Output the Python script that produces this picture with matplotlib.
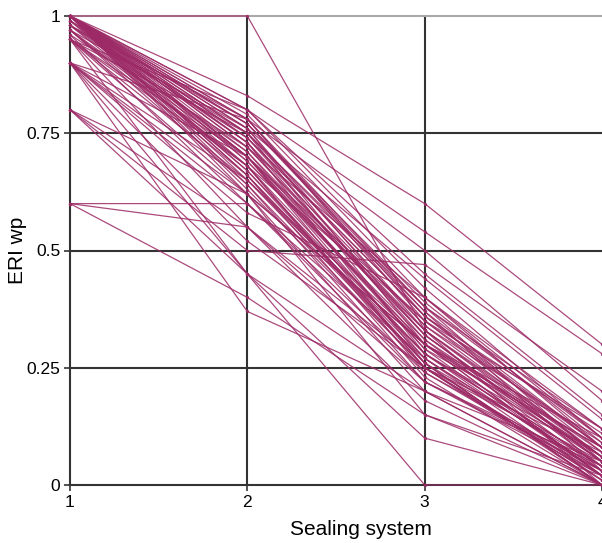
import matplotlib
matplotlib.use("Agg")
import matplotlib.pyplot as plt

plt.rcParams['font.family'] = ['Liberation Sans', 'DejaVu Sans']

systems = [1, 2, 3, 4]
x_ticks = [1, 2, 3, 4]
x_tick_labels = ["1", "2", "3", "4"]
y_ticks = [0, 0.25, 0.5, 0.75, 1]
y_tick_labels = ["0", "0.25", "0.5", "0.75", "1"]

# ERI wp value of each alternative for sealing systems 1..4
s1 = [1.0, 1.0, 1.0, 1.0, 1.0, 1.0, 1.0, 1.0, 1.0, 1.0, 1.0, 1.0, 1.0, 1.0,
      1.0, 1.0, 1.0, 1.0, 1.0, 1.0, 1.0, 1.0, 1.0, 1.0, 1.0, 1.0, 1.0, 1.0,
      1.0, 1.0, 1.0, 1.0, 0.99, 0.99, 0.99, 0.99, 0.98, 0.98, 0.97, 0.97,
      0.98, 0.98, 0.97, 0.97, 0.96, 0.96, 0.98, 0.97,
      0.95, 0.95, 0.95, 0.95, 0.95, 0.95, 0.95, 0.95,
      0.9, 0.9, 0.9, 0.9, 0.9, 0.9, 0.9, 0.9, 0.9,
      0.8, 0.8, 0.8, 0.8,
      0.6, 0.6, 0.6]
s2 = [0.80, 0.79, 0.78, 0.78, 0.77, 0.76, 0.76, 0.75, 0.75, 0.74, 0.73, 0.73, 0.72, 0.71,
      0.70, 0.70, 0.69, 0.68, 0.67, 0.66, 0.65, 0.64, 0.63, 0.62, 0.83, 1.0, 0.80, 0.77,
      0.74, 0.72, 0.69, 0.66, 0.77, 0.73, 0.70, 0.67, 0.75, 0.71, 0.68, 0.64,
      0.78, 0.74, 0.70, 0.66, 0.72, 0.60, 0.68, 0.76,
      0.75, 0.70, 0.65, 0.62, 0.55, 0.45, 0.68, 0.80,
      0.70, 0.65, 0.60, 0.58, 0.52, 0.78, 0.45, 0.37, 0.62,
      0.62, 0.55, 0.45, 0.50,
      0.60, 0.55, 0.40]
s3 = [0.42, 0.40, 0.38, 0.35, 0.37, 0.33, 0.30, 0.34, 0.28, 0.36, 0.31, 0.26, 0.32, 0.29,
      0.27, 0.25, 0.30, 0.24, 0.28, 0.23, 0.26, 0.22, 0.25, 0.20, 0.60, 0.33, 0.45, 0.38,
      0.36, 0.33, 0.31, 0.27, 0.39, 0.34, 0.29, 0.26, 0.37, 0.32, 0.28, 0.25,
      0.36, 0.32, 0.30, 0.26, 0.40, 0.24, 0.35, 0.44,
      0.38, 0.33, 0.28, 0.30, 0.22, 0.20, 0.25, 0.54,
      0.35, 0.30, 0.27, 0.40, 0.25, 0.50, 0.0, 0.20, 0.15,
      0.30, 0.25, 0.10, 0.47,
      0.22, 0.18, 0.15]
s4 = [0.10, 0.08, 0.05, 0.12, 0.03, 0.07, 0.02, 0.09, 0.04, 0.11, 0.06, 0.0, 0.05, 0.08,
      0.03, 0.01, 0.10, 0.02, 0.06, 0.0, 0.04, 0.03, 0.07, 0.0, 0.30, 0.0, 0.15, 0.12,
      0.07, 0.05, 0.03, 0.01, 0.09, 0.06, 0.02, 0.0, 0.08, 0.04, 0.02, 0.01,
      0.08, 0.05, 0.02, 0.0, 0.10, 0.03, 0.06, 0.14,
      0.10, 0.06, 0.04, 0.08, 0.02, 0.0, 0.05, 0.28,
      0.08, 0.05, 0.03, 0.12, 0.0, 0.18, 0.0, 0.05, 0.0,
      0.06, 0.02, 0.0, 0.20,
      0.04, 0.0, 0.02]

line_color = '#9C2A66'

fig = plt.figure(figsize=(6.02, 5.43), dpi=100)
ax = fig.add_axes([70/602, 1 - 485/543, 1 - 70/602, (485 - 16)/543])

for a, b, c, d in zip(s1, s2, s3, s4):
    ax.plot(systems, [a, b, c, d], color=line_color, lw=0.9, marker='o',
            markersize=2.4, markeredgewidth=0, alpha=0.85, zorder=3, clip_on=False)

ax.set_xlim(1, 4)
ax.set_ylim(0, 1)
ax.set_xticks(x_ticks)
ax.set_xticklabels(x_tick_labels)
ax.set_yticks(y_ticks)
ax.set_yticklabels(y_tick_labels)

for xv in [2, 3]:
    ax.axvline(xv, color='#333333', lw=1.5, zorder=1)
for yv in [0.25, 0.5, 0.75]:
    ax.axhline(yv, color='#333333', lw=1.5, zorder=1)

for side in ['left', 'bottom']:
    ax.spines[side].set_color('#333333')
    ax.spines[side].set_linewidth(1.5)
ax.spines['top'].set_color('#aaaaaa')
ax.spines['top'].set_linewidth(1.5)
ax.spines['right'].set_visible(False)

ax.tick_params(axis='both', labelsize=12.5, length=4, width=1.2, color='#333333', pad=3)
ax.set_xlabel('Sealing system', fontsize=15)
ax.set_ylabel('ERI wp', fontsize=15)
ax.xaxis.set_label_coords((361 - 70) / 532, -0.075)
ax.yaxis.set_label_coords((27 - 70) / 532, 0.5)

fig.savefig('out.png', dpi=100)
